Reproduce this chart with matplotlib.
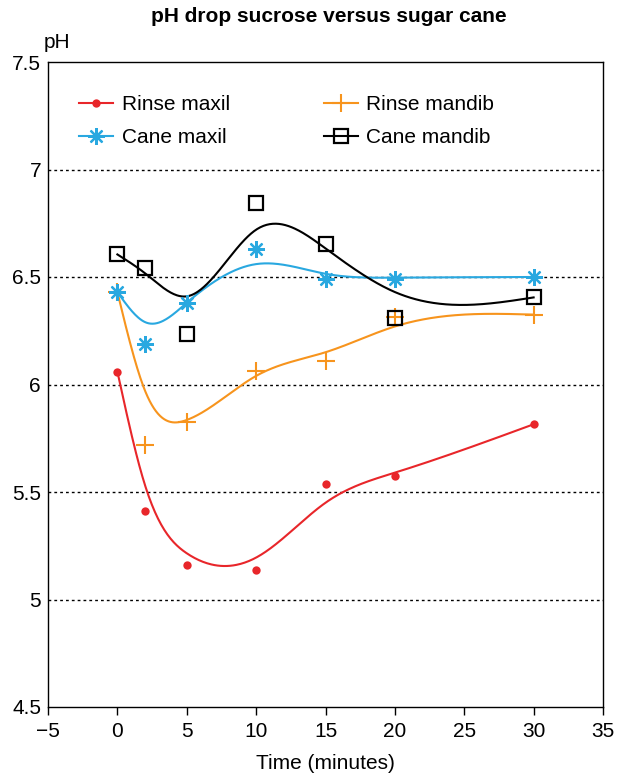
import numpy as np
import matplotlib
matplotlib.use("Agg")
import matplotlib.pyplot as plt

plt.rcParams['font.family'] = ['Liberation Sans', 'DejaVu Sans']

# ---- data ----
time_min = [0, 2, 5, 10, 15, 20, 30]
rinse_maxil = [6.06, 5.41, 5.16, 5.135, 5.535, 5.575, 5.815]
rinse_mandib = [6.43, 5.72, 5.825, 6.065, 6.11, 6.315, 6.325]
cane_maxil = [6.43, 6.19, 6.38, 6.63, 6.49, 6.49, 6.50]
cane_mandib = [6.605, 6.54, 6.235, 6.845, 6.655, 6.31, 6.405]

# smoothed trend values (at each time)
rinse_maxil_fit = [6.06, 5.53, 5.215, 5.195, 5.45, 5.59, 5.815]
rinse_mandib_fit = [6.43, 5.97, 5.835, 6.04, 6.15, 6.27, 6.325]
cane_maxil_fit = [6.43, 6.29, 6.38, 6.56, 6.515, 6.497, 6.50]
cane_mandib_fit = [6.605, 6.517, 6.41, 6.72, 6.633, 6.43, 6.405]

labels = ['Rinse maxil', 'Rinse mandib', 'Cane maxil', 'Cane mandib']
xticks = [-5, 0, 5, 10, 15, 20, 25, 30, 35]
yticks = [4.5, 5, 5.5, 6, 6.5, 7, 7.5]


def natural_spline(x, y, xs):
    x = np.asarray(x, float)
    y = np.asarray(y, float)
    n = len(x)
    h = np.diff(x)
    A = np.zeros((n, n))
    b = np.zeros(n)
    A[0, 0] = 1
    A[-1, -1] = 1
    for i in range(1, n - 1):
        A[i, i - 1] = h[i - 1]
        A[i, i] = 2 * (h[i - 1] + h[i])
        A[i, i + 1] = h[i]
        b[i] = 6 * ((y[i + 1] - y[i]) / h[i] - (y[i] - y[i - 1]) / h[i - 1])
    M = np.linalg.solve(A, b)
    idx = np.clip(np.searchsorted(x, xs) - 1, 0, n - 2)
    x0, x1 = x[idx], x[idx + 1]
    hh = x1 - x0
    t0 = x1 - xs
    t1 = xs - x0
    return (M[idx] * t0 ** 3 / (6 * hh) + M[idx + 1] * t1 ** 3 / (6 * hh)
            + (y[idx] / hh - M[idx] * hh / 6) * t0
            + (y[idx + 1] / hh - M[idx + 1] * hh / 6) * t1)


fig = plt.figure(figsize=(6.18, 7.76), dpi=100)
ax = fig.add_axes([48 / 618, 1 - 707 / 776, 555 / 618, 645 / 776])

xs = np.linspace(min(time_min), max(time_min), 400)

red = '#e8262a'
orange = '#f7941d'
blue = '#29a8e0'
black = '#000000'

series = [
    (rinse_maxil, rinse_maxil_fit, red, dict(marker='o', markersize=6, markerfacecolor=red, markeredgecolor=red, markeredgewidth=0)),
    (rinse_mandib, rinse_mandib_fit, orange, dict(marker='+', markersize=13, markeredgecolor=orange, markeredgewidth=1.5)),
    (cane_maxil, cane_maxil_fit, blue, dict(marker=(8, 2, 0), markersize=12, markeredgecolor=blue, markeredgewidth=1.6)),
    (cane_mandib, cane_mandib_fit, black, dict(marker='s', markersize=9.5, markerfacecolor='none', markeredgecolor=black, markeredgewidth=1.6)),
]

handles = []
for (vals, fit, col, mk), lab in zip(series, labels):
    ax.plot(xs, natural_spline(time_min, fit, xs), color=col, lw=1.5, zorder=2)
    ax.plot(time_min, vals, linestyle='none', zorder=3, **mk)
    h, = ax.plot([], [], color=col, lw=1.5, label=lab, **mk)
    handles.append(h)

for yv in yticks[1:-1]:
    ax.axhline(yv, color='black', lw=1.0, linestyle=(0, (2, 2.2)), zorder=1)

FS = 15
ax.set_xlim(-5, 35)
ax.set_ylim(4.5, 7.5)
ax.set_xticks(xticks)
ax.set_xticklabels([('\u2212' + str(-v)) if v < 0 else str(v) for v in xticks])
ax.set_yticks(yticks)
ax.set_yticklabels([('%g' % v) for v in yticks])
ax.tick_params(axis='x', direction='out', length=6, width=1, labelsize=FS, pad=5)
ax.tick_params(axis='y', length=0, labelsize=FS, pad=5)
for s in ax.spines.values():
    s.set_linewidth(1.0)

ax.set_xlabel('Time (minutes)', fontsize=FS, labelpad=9)

order = [0, 2, 1, 3]
ax.legend([handles[i] for i in order], [labels[i] for i in order], ncol=2,
          frameon=False, fontsize=FS, loc='upper left',
          bbox_to_anchor=(0.041, 0.962), handlelength=1.65, handletextpad=0.4,
          columnspacing=4.5, labelspacing=0.7, borderaxespad=0, borderpad=0.4)

fig.text(329 / 618, 1 - 16 / 776, 'pH drop sucrose versus sugar cane',
         ha='center', va='center', fontsize=FS, fontweight='bold')
fig.text(44 / 618, 1 - 43 / 776, 'pH', ha='left', va='center', fontsize=FS)

fig.savefig('out.png', dpi=100)
